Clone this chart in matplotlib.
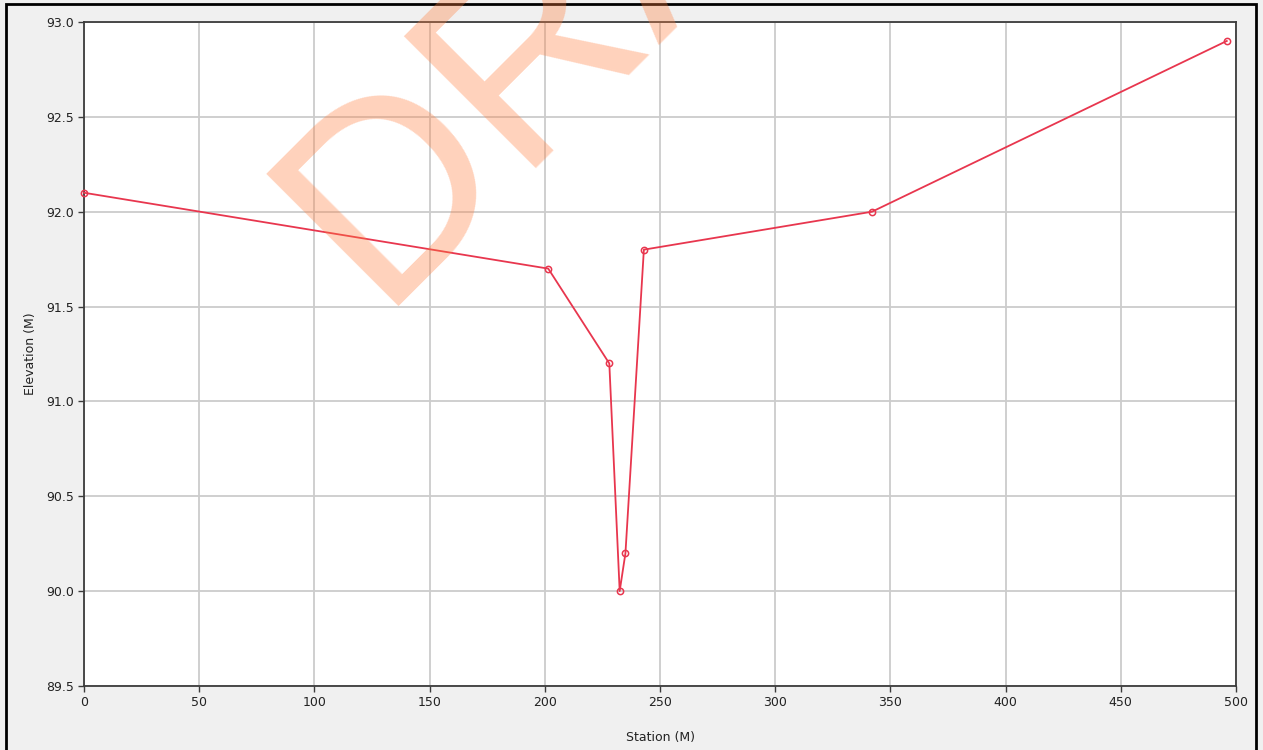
import matplotlib
matplotlib.use("Agg")
import matplotlib.pyplot as plt
import matplotlib.patches as patches

# Station / elevation profile
station = [0, 201.5, 228, 232.5, 235, 243, 342, 496]
elevation = [92.1, 91.7, 91.2, 90.0, 90.2, 91.8, 92.0, 92.9]

x_ticks = [0, 50, 100, 150, 200, 250, 300, 350, 400, 450, 500]
y_ticks = [89.5, 90.0, 90.5, 91.0, 91.5, 92.0, 92.5, 93.0]

line_color = '#E8364E'
spine_color = '#3c3c3c'

fig = plt.figure(figsize=(12.63, 7.5), dpi=100, facecolor='#f0f0f0')
ax = fig.add_axes([84/1263, 1 - 686/750, (1236-84)/1263, (686-22)/750])
ax.set_facecolor('white')

ax.plot(station, elevation, color=line_color, lw=1.3, marker='o',
        markersize=4.5, markerfacecolor='none', markeredgecolor=line_color,
        markeredgewidth=1.1, zorder=3, clip_on=False)

ax.set_xlim(0, 500)
ax.set_ylim(89.5, 93.0)
ax.set_xticks(x_ticks)
ax.set_yticks(y_ticks)
ax.set_yticklabels([f"{v:.1f}" for v in y_ticks])
ax.grid(True, color='#cccccc', lw=1.3, zorder=0)
ax.set_axisbelow(True)

for s in ax.spines.values():
    s.set_color(spine_color)
    s.set_linewidth(1.3)
ax.tick_params(direction='out', length=4, width=1, color=spine_color,
               labelsize=9, labelcolor='#222222', pad=3)

ax.set_xlabel('Station (M)', fontsize=9, color='#222222', labelpad=16)
ax.set_ylabel('Elevation (M)', fontsize=9, color='#222222', labelpad=7)

# DRAFT watermark
fig.text(377/1263, 1 - 306/750, 'DRAFT', fontsize=195, family='Liberation Sans',
         color='#FF7F3F', alpha=0.35, rotation=45, rotation_mode='anchor',
         ha='left', va='baseline', zorder=2)

# frame around the window
fig.patches.append(patches.Rectangle((6/1263, -0.05), (1256-6)/1263, 1.05 - 4/750,
                                     transform=fig.transFigure, fill=False,
                                     edgecolor='black', lw=2))

fig.savefig('out.png', dpi=100, facecolor=fig.get_facecolor())
